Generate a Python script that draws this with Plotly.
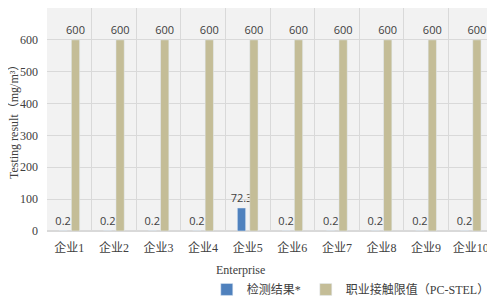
import plotly.graph_objects as go

categories = ["企业1", "企业2", "企业3", "企业4", "企业5", "企业6", "企业7", "企业8", "企业9", "企业10"]
detected = [0.2, 0.2, 0.2, 0.2, 72.3, 0.2, 0.2, 0.2, 0.2, 0.2]
limit = [600, 600, 600, 600, 600, 600, 600, 600, 600, 600]
series_names = ["检测结果*", "职业接触限值（PC-STEL）"]

serif = "Liberation Serif, Noto Sans CJK SC, serif"
sans = "Open Sans, Liberation Sans, sans-serif"

fig = go.Figure()
fig.add_trace(go.Bar(
    x=categories, y=detected, name=series_names[0],
    marker_color="#4f81bd",
    text=[str(v) for v in detected], textposition="outside", constraintext="none",
    textfont=dict(family=sans, size=11, color="#404040"),
    cliponaxis=False,
))
fig.add_trace(go.Bar(
    x=categories, y=limit, name=series_names[1],
    marker_color="#c4bd97",
    text=[str(v) for v in limit], textposition="outside", constraintext="none",
    textfont=dict(family=sans, size=11, color="#404040"),
    cliponaxis=False,
))

# page body has an 8px margin, so the figure is sized to fit the window
fig.update_layout(
    width=487, height=288,
    margin=dict(l=39, r=2, t=0, b=65, autoexpand=False),
    paper_bgcolor="white", plot_bgcolor="#f2f2f2",
    barmode="group", bargap=0.444, bargroupgap=0.33,
    showlegend=True,
    legend=dict(orientation="h", x=1.004, xanchor="right", y=-0.262, yanchor="middle",
                font=dict(family=serif, size=12, color="#404040"),
                itemwidth=30, tracegroupgap=0, bgcolor="rgba(0,0,0,0)"),
    xaxis=dict(type="category", tickson="boundaries", showgrid=True, gridcolor="#d9d9d9",
               gridwidth=1, ticks="", tickfont=dict(family=serif, size=12, color="#404040"),
               showline=False, zeroline=False, automargin=False, ticklabelstandoff=8),
    yaxis=dict(range=[0, 700], dtick=100, showgrid=True, gridcolor="#d9d9d9", gridwidth=1,
               zeroline=True, zerolinecolor="#d9d9d9", ticks="", automargin=False,
               ticklabelstandoff=8,
               tickfont=dict(family=serif, size=12, color="#404040")),
    annotations=[
        dict(text="Enterprise", xref="paper", yref="paper", x=0.433, y=-0.175,
             xanchor="center", yanchor="middle", showarrow=False,
             font=dict(family=serif, size=12, color="#404040")),
        dict(text="Testing result（mg/m³）", xref="paper", yref="paper", x=-0.075, y=0.5,
             xanchor="center", yanchor="middle", showarrow=False, textangle=-90,
             font=dict(family=serif, size=12, color="#404040")),
    ],
)

fig.write_html("out.html")
